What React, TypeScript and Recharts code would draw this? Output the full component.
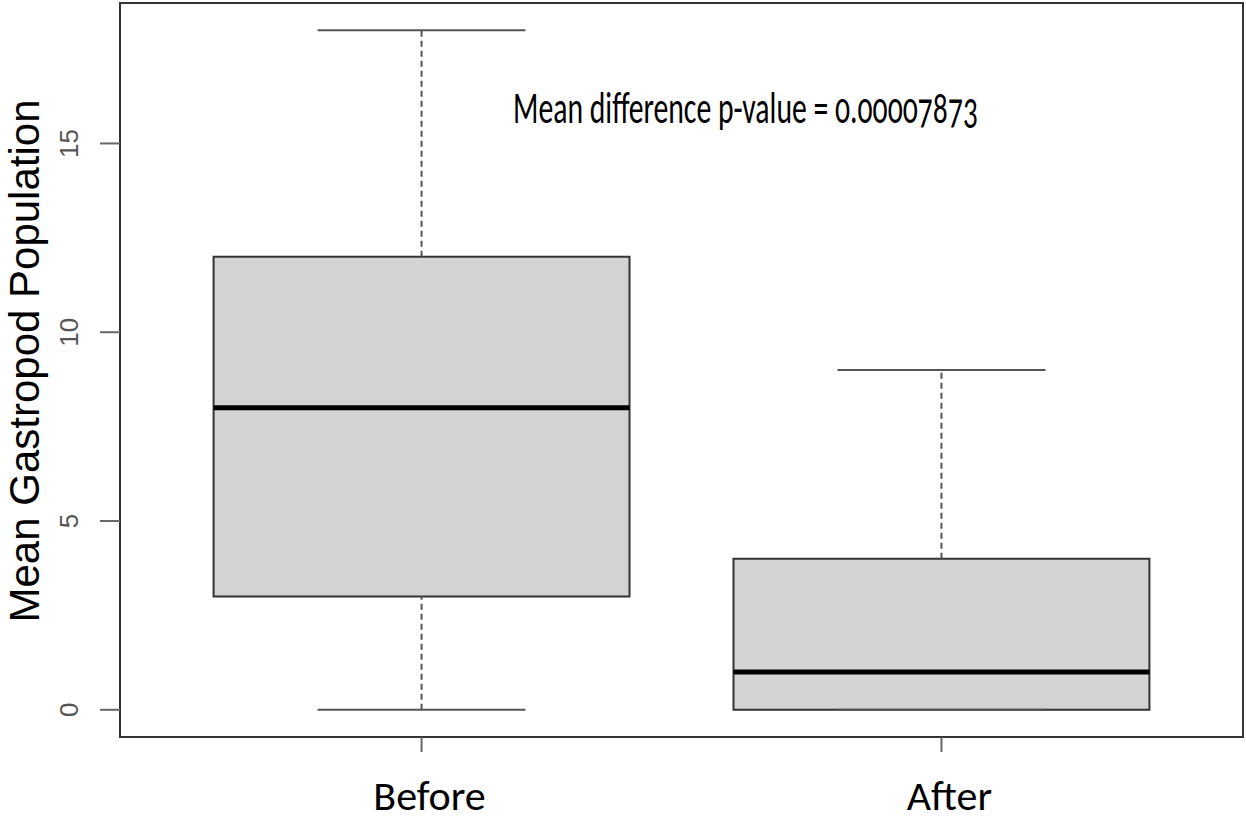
import React from "react";
import {
  ComposedChart,
  XAxis,
  YAxis,
  Scatter,
  ReferenceArea,
  ReferenceLine,
} from "recharts";

// groups
const categories = ["Before", "After"];
const positions = [1, 2];

// box stats
const lowerWhisker = [0, 0];
const q1 = [3, 0];
const medians = [8, 1];
const q3 = [12, 4];
const upperWhisker = [18, 9];

const yTicks = [0, 5, 10, 15];

const xDomain = [0.42, 2.58];
const yDomain = [-0.72, 18.72];

const boxHalf = 0.4;
const capHalf = 0.2;

const points = positions.map((x, i) => ({ x, y: medians[i], name: categories[i] }));

const XTick = (props: any) => {
  const { x, y, payload } = props;
  const i = positions.indexOf(payload.value);
  return (
    <text
      x={x + 8}
      y={y}
      dy={56}
      textAnchor="middle"
      fontFamily="Carlito, Lato"
      fontSize={42}
      fill="#000"
    >
      {categories[i]}
    </text>
  );
};

const YTick = (props: any) => {
  const { y, payload } = props;
  return (
    <text
      x={78}
      y={y}
      transform={`rotate(-90 78 ${y})`}
      textAnchor="middle"
      fontFamily="Liberation Sans"
      fontSize={26}
      fill="#555"
    >
      {payload.value}
    </text>
  );
};

const YTitle = (props: any) => {
  const vb = props.viewBox;
  const cy = vb.y + vb.height / 2 - 9;
  return (
    <text
      x={39}
      y={cy}
      transform={`rotate(-90 39 ${cy})`}
      textAnchor="middle"
      fontFamily="Liberation Sans"
      fontSize={42}
      fill="#000"
    >
      Mean Gastropod Population
    </text>
  );
};

export default function App() {
  return (
    <div style={{ position: "absolute", left: 0, top: 0, width: 1246, height: 822, background: "#fff" }}>
      <ComposedChart
        width={1246}
        height={822}
        data={points}
        margin={{ top: 3, right: 3, bottom: 0, left: 0 }}
      >
        <XAxis
          dataKey="x"
          type="number"
          domain={xDomain}
          ticks={positions}
          allowDataOverflow
          axisLine={false}
          tickLine={{ stroke: "#666", strokeWidth: 2 }}
          tickSize={15}
          height={85}
          tick={<XTick />}
        />
        <YAxis
          dataKey="y"
          type="number"
          domain={yDomain}
          ticks={yTicks}
          allowDataOverflow
          axisLine={false}
          tickLine={{ stroke: "#666", strokeWidth: 2 }}
          tickSize={20}
          width={120}
          tick={<YTick />}
          label={<YTitle />}
        />

        {/* plot frame */}
        <ReferenceArea
          x1={xDomain[0]}
          x2={xDomain[1]}
          y1={yDomain[0]}
          y2={yDomain[1]}
          fill="#fff"
          fillOpacity={0}
          stroke="#333"
          strokeWidth={2}
          strokeOpacity={1}
        />

        {/* boxes */}
        {positions.map((x, i) => (
          <ReferenceArea
            key={`box-${i}`}
            x1={x - boxHalf}
            x2={x + boxHalf}
            y1={q1[i]}
            y2={q3[i]}
            fill="#d3d3d3"
            fillOpacity={1}
            stroke="#333"
            strokeWidth={2}
            strokeOpacity={1}
          />
        ))}

        {/* whiskers */}
        {positions.map((x, i) => (
          <ReferenceLine
            key={`wu-${i}`}
            segment={[{ x, y: q3[i] }, { x, y: upperWhisker[i] }]}
            stroke="#555"
            strokeWidth={2}
            strokeDasharray="6 4"
          />
        ))}
        {positions.map((x, i) =>
          q1[i] > lowerWhisker[i] ? (
            <ReferenceLine
              key={`wl-${i}`}
              segment={[{ x, y: lowerWhisker[i] }, { x, y: q1[i] }]}
              stroke="#555"
              strokeWidth={2}
              strokeDasharray="6 4"
            />
          ) : null
        )}

        {/* caps */}
        {positions.map((x, i) => (
          <ReferenceLine
            key={`cu-${i}`}
            segment={[{ x: x - capHalf, y: upperWhisker[i] }, { x: x + capHalf, y: upperWhisker[i] }]}
            stroke="#555"
            strokeWidth={2}
          />
        ))}
        {positions.map((x, i) => (
          <ReferenceLine
            key={`cl-${i}`}
            segment={[{ x: x - capHalf, y: lowerWhisker[i] }, { x: x + capHalf, y: lowerWhisker[i] }]}
            stroke="#555"
            strokeWidth={2}
          />
        ))}

        {/* medians */}
        {positions.map((x, i) => (
          <ReferenceLine
            key={`med-${i}`}
            segment={[{ x: x - boxHalf, y: medians[i] }, { x: x + boxHalf, y: medians[i] }]}
            stroke="#000"
            strokeWidth={5}
          />
        ))}

        <Scatter dataKey="y" isAnimationActive={false} shape={() => null} />
      </ComposedChart>
      <svg
        width={1246}
        height={822}
        style={{ position: "absolute", left: 0, top: 0, pointerEvents: "none" }}
      >
        <text
          x={513}
          y={123}
          fontFamily="Carlito, Lato"
          fontSize={45}
          textLength={465}
          lengthAdjust="spacingAndGlyphs"
          style={{ fontFeatureSettings: '"onum"' }}
          fill="#000"
        >
          Mean difference p-value = 0.00007873
        </text>
      </svg>
    </div>
  );
}
